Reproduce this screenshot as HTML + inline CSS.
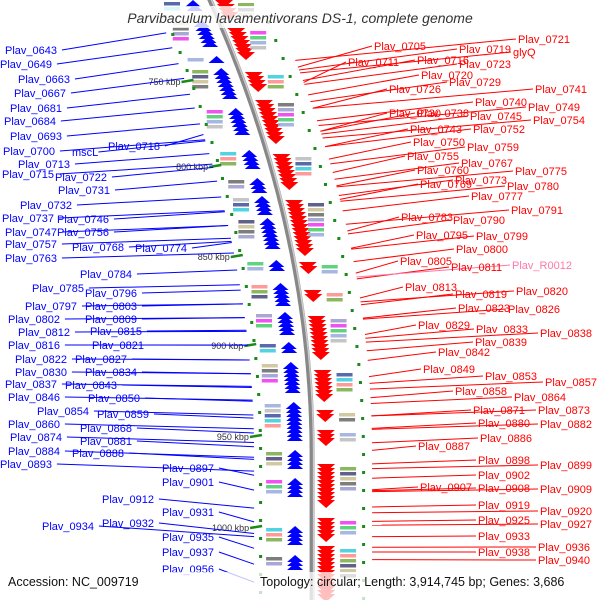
<!DOCTYPE html>
<html><head><meta charset="utf-8">
<style>
html,body{margin:0;padding:0;background:#fff;}
svg{display:block;font-family:"Liberation Sans",sans-serif;}
</style></head>
<body>
<svg id="map" width="600" height="600" viewBox="0 0 600 600" xmlns="http://www.w3.org/2000/svg">
<g id="rings"></g>
<g id="lines"></g>
<g id="labels"></g>
<rect x="140" y="6" width="360" height="22" fill="#fff" opacity="0.8"/>
<text x="300" y="23" text-anchor="middle" font-size="14" font-style="italic" fill="#333">Parvibaculum lavamentivorans DS-1, complete genome</text>
<rect x="0" y="572" width="600" height="28" fill="#fff" opacity="0.75"/>
<text x="8" y="586" font-size="12.5" fill="#111">Accession: NC_009719</text>
<text x="260" y="586" font-size="12.5" fill="#111">Topology: circular; Length: 3,914,745 bp; Genes: 3,686</text>
</svg>
<script>
const NS="http://www.w3.org/2000/svg";
const leftNames=["Plav_0643","Plav_0649","Plav_0663","Plav_0667","Plav_0681","Plav_0684","Plav_0693","Plav_0700","mscL","Plav_0718","Plav_0713","Plav_0722","Plav_0715","Plav_0731","Plav_0732","Plav_0737","Plav_0746","Plav_0747","Plav_0756","Plav_0757","Plav_0768","Plav_0774","Plav_0763","Plav_0784","Plav_0785","Plav_0796","Plav_0797","Plav_0803","Plav_0802","Plav_0809","Plav_0812","Plav_0815","Plav_0816","Plav_0821","Plav_0822","Plav_0827","Plav_0830","Plav_0834","Plav_0837","Plav_0843","Plav_0846","Plav_0850","Plav_0854","Plav_0859","Plav_0860","Plav_0868","Plav_0874","Plav_0881","Plav_0884","Plav_0888","Plav_0893","Plav_0897","Plav_0901","Plav_0912","Plav_0931","Plav_0934","Plav_0932","Plav_0935","Plav_0937","Plav_0956"];
const leftX=[5,0,18,14,10,4,10,3,72,108,18,55,2,58,20,2,57,5,57,5,72,135,5,80,32,85,25,85,8,85,18,90,8,92,15,75,15,85,5,65,8,88,37,97,8,80,10,80,8,72,0,162,162,102,162,42,102,162,162,162];
const leftY=[50,64,79,93,108,121,136,151,152,146,164,177,174,190,205,218,219,232,232,244,247,248,258,274,288,293,306,306,319,319,332,331,345,345,359,359,372,372,384,385,397,398,411,414,424,428,437,441,451,453,464,468,482,499,512,526,523,537,552,569];
const rightNames=["Plav_0705","Plav_0711","Plav_0716","Plav_0719","Plav_0721","glyQ","Plav_0723","Plav_0720","Plav_0726","Plav_0729","Plav_0741","Plav_0740","Plav_0749","Plav_0730","Plav_0738","Plav_0745","Plav_0754","Plav_0743","Plav_0752","Plav_0750","Plav_0759","Plav_0755","Plav_0767","Plav_0775","Plav_0760","Plav_0773","Plav_0769","Plav_0780","Plav_0777","Plav_0791","Plav_0783","Plav_0790","Plav_0795","Plav_0799","Plav_0800","Plav_0805","Plav_0811","Plav_R0012","Plav_0813","Plav_0820","Plav_0819","Plav_0823","Plav_0826","Plav_0829","Plav_0833","Plav_0838","Plav_0839","Plav_0842","Plav_0849","Plav_0853","Plav_0857","Plav_0858","Plav_0864","Plav_0871","Plav_0873","Plav_0880","Plav_0882","Plav_0886","Plav_0887","Plav_0898","Plav_0899","Plav_0902","Plav_0907","Plav_0908","Plav_0909","Plav_0919","Plav_0920","Plav_0925","Plav_0927","Plav_0933","Plav_0936","Plav_0938","Plav_0940"];
const rightX=[374,348,417,459,518,513,459,421,389,449,535,475,528,389,417,470,533,410,473,413,467,407,461,515,417,455,420,507,471,511,401,453,416,476,456,400,451,512,405,516,455,458,508,418,476,540,475,438,423,485,545,455,514,473,538,478,540,480,418,478,540,478,420,478,540,478,540,478,540,478,538,478,538];
const rightY=[46,62,60,49,39,52,64,75,89,82,89,102,107,113,113,116,120,129,129,142,147,156,163,171,170,180,184,186,196,210,217,220,235,236,249,261,267,265,287,291,294,308,309,325,329,333,342,352,369,376,382,391,397,410,410,423,424,438,446,460,465,475,487,488,489,505,511,520,524,536,547,552,560];
const kbpLabels=["750 kbp","800 kbp","850 kbp","900 kbp","950 kbp","1000 kbp"];
const kbpY=[82,167,257,346,437,528];
const blueClusters=[[0,12],[20,48],[56,64],[68,100],[108,136],[150,168],[178,192],[196,214],[218,250],[260,270],[283,305],[312,335],[342,352],[362,392],[402,440],[450,470],[478,496],[526,546],[555,570]];
const redClusters=[[0,20],[28,58],[72,92],[100,145],[154,188],[200,256],[262,275],[290,302],[316,360],[370,400],[410,420],[430,446],[464,506],[518,540],[546,600]];

function arcX(y){const yy=Math.min(y,455);return 210+0.4487*yy-0.000493*yy*yy;}
function mk(tag,attrs,parent){const e=document.createElementNS(NS,tag);for(const k in attrs)e.setAttribute(k,attrs[k]);parent.appendChild(e);return e;}
const rings=document.getElementById('rings'),lines=document.getElementById('lines'),labels=document.getElementById('labels');

let d="";for(let y=-5;y<=605;y+=5){d+=(y<0?"M":"L")+arcX(y).toFixed(1)+" "+y;}
const bb=mk('path',{d:d,stroke:"#888",'stroke-width':5,fill:"none"},rings);


const bb2=mk('path',{d:d,stroke:"#ccc",'stroke-width':1.5,fill:"none",transform:"translate(1.5,0)"},rings);



const boxCols=["#3b4fa0","#c8c090","#9ad","#7a4","#e3e","#3cd","#666","#bbb","#447","#4c6","#f88","#99c"];
function stripes(x,y0,y1,seed){
  let k=seed;
  for(let y=y0;y<y1;y+=5){
    const s=mk('rect',{x:x,y:y,width:16,height:3.5,fill:boxCols[k%boxCols.length],opacity:0.85},rings);
    
    
    k+=5;
  }
}
blueClusters.forEach((c,i)=>{
  for(let y=c[0];y<=c[1]-6;y+=4){
    const x=arcX(y)-17;
    const t=mk('polygon',{points:`${x-8},${y+7} ${x},${y} ${x+8},${y+7}`,fill:"#00f"},rings);
    
    
  }
  stripes(arcX(c[0])-46,c[0]+2,c[0]+2+Math.max(4,(c[1]-c[0])*0.6),i);
});
redClusters.forEach((c,i)=>{
  for(let y=c[0];y<=c[1]-6;y+=4){
    const x=arcX(y)+14;
    const t=mk('polygon',{points:`${x-9},${y} ${x+9},${y} ${x},${y+8}`,fill:"#f00"},rings);
    
    
  }
  stripes(arcX(c[0])+28,c[0]+3,c[0]+3+Math.max(4,(c[1]-c[0])*0.55),i+3);
});
for(let y=15;y<600;y+=18){
  const g1=mk('rect',{x:arcX(y)-53,y:y,width:3,height:3,fill:"#1a8a1a"},rings);
  
  
  const g2=mk('rect',{x:arcX(y)+50,y:y+6,width:3,height:3,fill:"#1a8a1a"},rings);
  
  
}
kbpLabels.forEach((s,i)=>{
  const y=kbpY[i];
  const tk=mk('line',{x1:arcX(y)-62,y1:y,x2:arcX(y)-50,y2:y-2,stroke:"#1a8a1a",'stroke-width':2.5},rings);
  
  
  const t=mk('text',{x:arcX(y)-63,y:y+3,'font-size':9,'text-anchor':"end",fill:"#333"},rings);
  t.textContent=s;
  
  
});
const fs=11;
function tw(s){return s.length*6.1;}
leftNames.forEach((s,i)=>{
  const x=leftX[i],y=leftY[i];
  const t=mk('text',{x:x,y:y+4,'font-size':fs,fill:"#00f"},labels);
  t.textContent=s;
  
  
  const ay=y-20+35*(y/600);
  const ax=arcX(ay)-58;
  const l=mk('line',{x1:x+tw(s)+2,y1:y,x2:ax,y2:ay,stroke:"#00f",'stroke-width':1},lines);
  
  
});
rightNames.forEach((s,i)=>{
  const x=rightX[i],y=rightY[i];
  const col=s==="Plav_R0012"?"#f7a":"#f00";
  const t=mk('text',{x:x,y:y+4,'font-size':fs,fill:col},labels);
  t.textContent=s;
  
  
  const ay=y+23-25*(y/600);
  const ax=arcX(ay)+60;
  const l=mk('line',{x1:x-2,y1:y,x2:ax,y2:ay,stroke:col,'stroke-width':1},lines);
  
  
});
</script>
</body></html>
